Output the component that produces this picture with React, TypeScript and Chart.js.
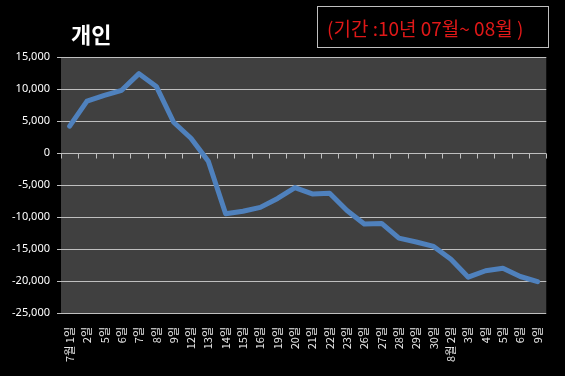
import React, { useEffect, useRef } from "react";
import { Chart, registerables } from "chart.js";

Chart.register(...registerables);

const categories: string[] = [
  "7월 1일", "2일", "5일", "6일", "7일", "8일", "9일", "12일", "13일", "14일",
  "15일", "16일", "19일", "20일", "21일", "22일", "23일", "26일", "27일", "28일",
  "29일", "30일", "8월 2일", "3일", "4일", "5일", "6일", "9일",
];

const personalValues: number[] = [
  4200, 8100, 9000, 9800, 12400, 10400, 4800, 2300, -1300, -9500,
  -9100, -8500, -7100, -5400, -6400, -6300, -9000, -11100, -11000, -13300,
  -13900, -14600, -16600, -19400, -18400, -18000, -19300, -20100,
];

const yMin = -25000;
const yMax = 15000;
const yStep = 5000;

const chartTitle = "개인";
const periodLabel = "(기간 :10년 07월~ 08월 )";

const plotBgPlugin = {
  id: "plotBg",
  beforeDraw(chart: any) {
    const { ctx, chartArea } = chart;
    ctx.save();
    ctx.fillStyle = "#404040";
    ctx.fillRect(chartArea.left, chartArea.top, chartArea.right - chartArea.left, chartArea.bottom - chartArea.top);
    ctx.restore();
  },
};

const zeroTicksPlugin = {
  id: "zeroTicks",
  beforeDatasetsDraw(chart: any) {
    const { ctx, chartArea, scales } = chart;
    const x = scales.x;
    const y = scales.y;
    const y0 = Math.round(y.getPixelForValue(0)) + 0.5;
    const n = categories.length;
    ctx.save();
    ctx.strokeStyle = "#bfbfbf";
    ctx.lineWidth = 1;
    ctx.beginPath();
    for (let i = 0; i <= n; i++) {
      let px: number;
      if (i === 0) px = chartArea.left;
      else if (i === n) px = chartArea.right;
      else px = (x.getPixelForTick(i - 1) + x.getPixelForTick(i)) / 2;
      px = Math.round(px) + 0.5;
      ctx.moveTo(px, y0);
      ctx.lineTo(px, y0 + 5);
    }
    ctx.stroke();
    ctx.restore();
  },
};

export default function App() {
  const canvasRef = useRef<HTMLCanvasElement | null>(null);

  useEffect(() => {
    document.body.style.margin = "0";
    const canvas = canvasRef.current;
    if (!canvas) return;
    const chart = new Chart(canvas, {
      type: "line",
      data: {
        labels: categories,
        datasets: [
          {
            label: chartTitle,
            data: personalValues,
            borderColor: "#4F81BD",
            borderWidth: 5,
            pointRadius: 0,
            tension: 0,
            borderJoinStyle: "round",
            borderCapStyle: "round",
            fill: false,
          },
        ],
      },
      options: {
        animation: false,
        responsive: false,
        devicePixelRatio: 1,
        layout: { padding: { top: 57, right: 12, left: 0, bottom: 0 } },
        plugins: {
          legend: { display: false },
          tooltip: { enabled: false },
          title: { display: false },
        },
        scales: {
          x: {
            type: "category",
            offset: true,
            grid: { display: false, drawTicks: false },
            border: { display: false },
            ticks: {
              autoSkip: false,
              minRotation: 90,
              maxRotation: 90,
              padding: 14,
              color: "#e8e8e8",
              font: { family: "'Noto Sans CJK KR', 'Noto Sans'", size: 11 },
            },
            afterFit(scale: any) {
              scale.height = 63;
            },
          },
          y: {
            min: yMin,
            max: yMax,
            grid: {
              color: "#bfbfbf",
              lineWidth: 1,
              drawTicks: true,
              tickLength: 4,
              tickColor: "#bfbfbf",
            },
            border: { display: false },
            ticks: {
              stepSize: yStep,
              padding: 7,
              color: "#ffffff",
              font: { family: "'Noto Sans', 'DejaVu Sans'", size: 11 },
              callback: (v: any) => Number(v).toLocaleString("en-US"),
            },
            afterFit(scale: any) {
              scale.width = 61;
            },
          },
        },
      },
      plugins: [plotBgPlugin, zeroTicksPlugin],
    });
    return () => chart.destroy();
  }, []);

  return (
    <div
      style={{
        position: "absolute",
        left: 0,
        top: 0,
        width: 565,
        height: 376,
        background: "#000000",
        overflow: "hidden",
      }}
    >
      <canvas ref={canvasRef} width={565} height={376} style={{ position: "absolute", left: 0, top: 0 }} />
      <div
        style={{
          position: "absolute",
          left: 71,
          top: 20,
          fontFamily: "'Noto Sans CJK KR', sans-serif",
          fontWeight: 700,
          fontSize: 22,
          lineHeight: "26px",
          color: "#ffffff",
          whiteSpace: "nowrap",
        }}
      >
        {chartTitle}
      </div>
      <div
        style={{
          position: "absolute",
          left: 317,
          top: 6,
          width: 230,
          height: 40,
          border: "1px solid #bfbfbf",
          boxSizing: "content-box",
        }}
      />
      <div
        style={{
          position: "absolute",
          left: 327,
          top: 15,
          fontFamily: "'Noto Sans CJK KR', sans-serif",
          fontSize: 19,
          lineHeight: "26px",
          color: "#e01818",
          whiteSpace: "nowrap",
        }}
      >
        {periodLabel}
      </div>
    </div>
  );
}
